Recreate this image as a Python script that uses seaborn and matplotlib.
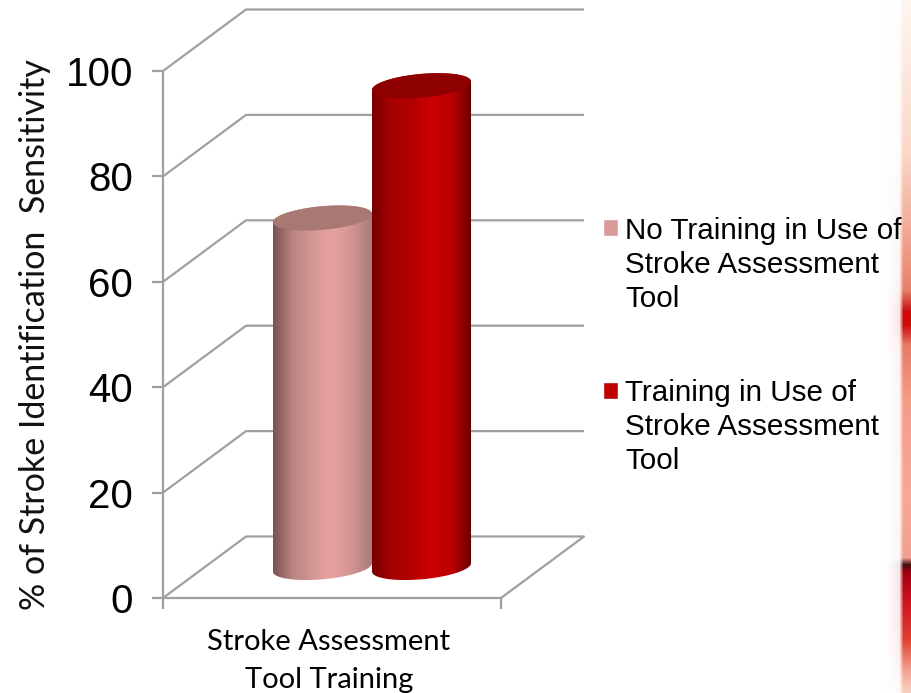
import numpy as np
import pandas as pd
import seaborn as sns
import matplotlib
matplotlib.use('Agg')
import matplotlib.pyplot as plt
from matplotlib.colors import LinearSegmentedColormap, to_rgb
from matplotlib.path import Path
from matplotlib.patches import PathPatch

# data
categories = ['Stroke Assessment\nTool Training']
series = ['No Training in Use of\nStroke Assessment\nTool',
          'Training in Use of\nStroke Assessment\nTool']
values = [66.3, 91.4]
y_ticks = [0, 20, 40, 60, 80, 100]
y_title = '% of Stroke Identification  Sensitivity'

legend_colors = ['#dc9b9b', '#c00000']
top_colors = ['#a87872', '#8e0000']
side_shades = [['#7a5250', '#b98583', '#d69896', '#e8a2a0', '#d09492', '#a97a78'],
               ['#780000', '#a80000', '#b40000', '#cc0000', '#bc0000', '#6a0000']]
grid_color = '#a0a0a0'

# red strip at the right edge of the slide
strip_y = [0, 150, 220, 290, 312, 325, 345, 400, 500, 558, 565, 572, 600, 640, 670, 693]
strip_c = ['#fff6f0', '#fbd8c8', '#f3b09c', '#e8806a', '#cc0a0a', '#cc0a0a', '#e87a66', '#f59c88',
           '#f8a898', '#f0a090', '#401010', '#a00010', '#d01020', '#e04030', '#f4a090', '#fad0c0']

sns.set_theme(style='white')
plt.rcParams['font.family'] = ['Liberation Sans', 'DejaVu Sans']

W, H = 912, 693
fig = plt.figure(figsize=(W / 100, H / 100), dpi=100)
ax = fig.add_axes([163 / W, 1 - 598 / H, 338 / W, 527 / H])

df = pd.DataFrame({'cat': categories * 2, 'series': series, 'value': values})
sns.barplot(data=df, x='cat', y='value', hue='series', palette=legend_colors,
            width=0.586, gap=0, saturation=1, ax=ax, errorbar=None)
ax.set_xlim(-0.5, 0.5)
ax.set_ylim(0, 100)

# fake depth, in data units
wall_dx, wall_dy = 83 / 338, 61.5 / 5.27
bar_dx, bar_dy = 40 / 338, 5.8
lw = 1.6
xl, xr = -0.5, 0.5

for v in y_ticks:
    ax.plot([xl, xl + wall_dx, xr + wall_dx], [v, v + wall_dy, v + wall_dy],
            color=grid_color, lw=lw, clip_on=False, zorder=0.5, solid_capstyle='butt')
ax.plot([xr, xr + wall_dx], [0, wall_dy], color=grid_color, lw=lw, clip_on=False, zorder=0.5)

# turn the flat bars into shaded cylinders
ell_b, ell_k = 2.25, 0.8
t = np.linspace(0, 2 * np.pi, 80)
for i, bar in enumerate(ax.patches[:2]):
    x0 = bar.get_x() + bar_dx
    w = bar.get_width()
    val = bar.get_height()
    bar.set_visible(False)
    cx = x0 + w / 2
    a = w / 2
    # outline: lower half of the base, then upper half of the top
    t_low = np.linspace(np.pi, 2 * np.pi, 60)
    t_up = np.linspace(0, np.pi, 60)
    px = np.r_[cx + a * np.cos(t_low), cx + a * np.cos(t_up)]
    py = np.r_[bar_dy + ell_b * np.sin(t_low) + ell_k * np.cos(t_low),
               bar_dy + val + ell_b * np.sin(t_up) + ell_k * np.cos(t_up)]
    outline = PathPatch(Path(np.c_[px, py]), transform=ax.transData, fc='none', ec='none')
    cmap = sns.blend_palette(side_shades[i], as_cmap=True)
    im = ax.imshow(np.linspace(0, 1, 200)[None, :], cmap=cmap, aspect='auto',
                   extent=[x0, x0 + w, bar_dy - 5, bar_dy + val + 5],
                   zorder=2 + i, clip_on=True)
    ax.add_patch(outline)
    im.set_clip_path(outline)
    tx = cx + a * np.cos(t)
    ty = bar_dy + val + ell_b * np.sin(t) + ell_k * np.cos(t)
    ax.fill(tx, ty, color=top_colors[i], lw=0, zorder=2.5 + i, clip_on=False)

ax.set_xlim(-0.5, 0.5)
ax.set_ylim(0, 100)

sns.despine(ax=ax)
for s in ['left', 'bottom']:
    ax.spines[s].set_color(grid_color)
    ax.spines[s].set_linewidth(lw)

ax.set_yticks(y_ticks)
ax.tick_params(axis='y', length=8, width=lw, color=grid_color, labelsize=29, pad=13.5,
               left=True, labelcolor='black')
ax.set_xticks([-3 / 338])
ax.set_xticklabels(categories, fontfamily='Lato', fontsize=21, linespacing=1.6, color='black')
ax.tick_params(axis='x', length=0, pad=22)
ax.set_xticks([xl, xr], minor=True)
ax.tick_params(axis='x', which='minor', length=8, width=lw, color=grid_color, bottom=True)

ax.set_xlabel('')
ax.set_ylabel('')
fig.text(35 / W, 1 - 335 / H, y_title, rotation=90, ha='center', va='center',
         fontfamily='Lato', fontsize=24.5, color='#111111')

handles, labels = ax.get_legend_handles_labels()
leg = ax.legend(handles, labels, loc='upper left', bbox_to_anchor=(603 / W, 1 - 217 / H),
                bbox_transform=fig.transFigure, frameon=False, fontsize=21.3, borderpad=0,
                borderaxespad=0, handlelength=0.51, handleheight=0.51, handletextpad=0.24,
                labelspacing=2.25, labelcolor='black')
for txt in leg.get_texts():
    txt.set_linespacing(1.27)
# square sits next to the first line, not the middle of the label
for h in leg.legend_handles:
    h.set_y(h.get_y() + 27)

# slide background strip
cmap_strip = LinearSegmentedColormap.from_list(
    'strip', [(y / H, to_rgb(c)) for y, c in zip(strip_y, strip_c)], N=693)
rows = cmap_strip(np.linspace(0, 1, 693))[:, :3]
cols = np.arange(885, 912)
alpha = np.interp(cols, [885, 899, 903, 912], [0, 0.1, 1, 1])
img = np.dstack([np.repeat(rows[:, None, c], len(cols), axis=1) for c in range(3)] +
                [np.tile(alpha, (693, 1))])
ax_s = fig.add_axes([885 / W, 0, 27 / W, 1], zorder=-1)
ax_s.imshow(img, aspect='auto')
ax_s.axis('off')

fig.savefig('out.png', dpi=100)
